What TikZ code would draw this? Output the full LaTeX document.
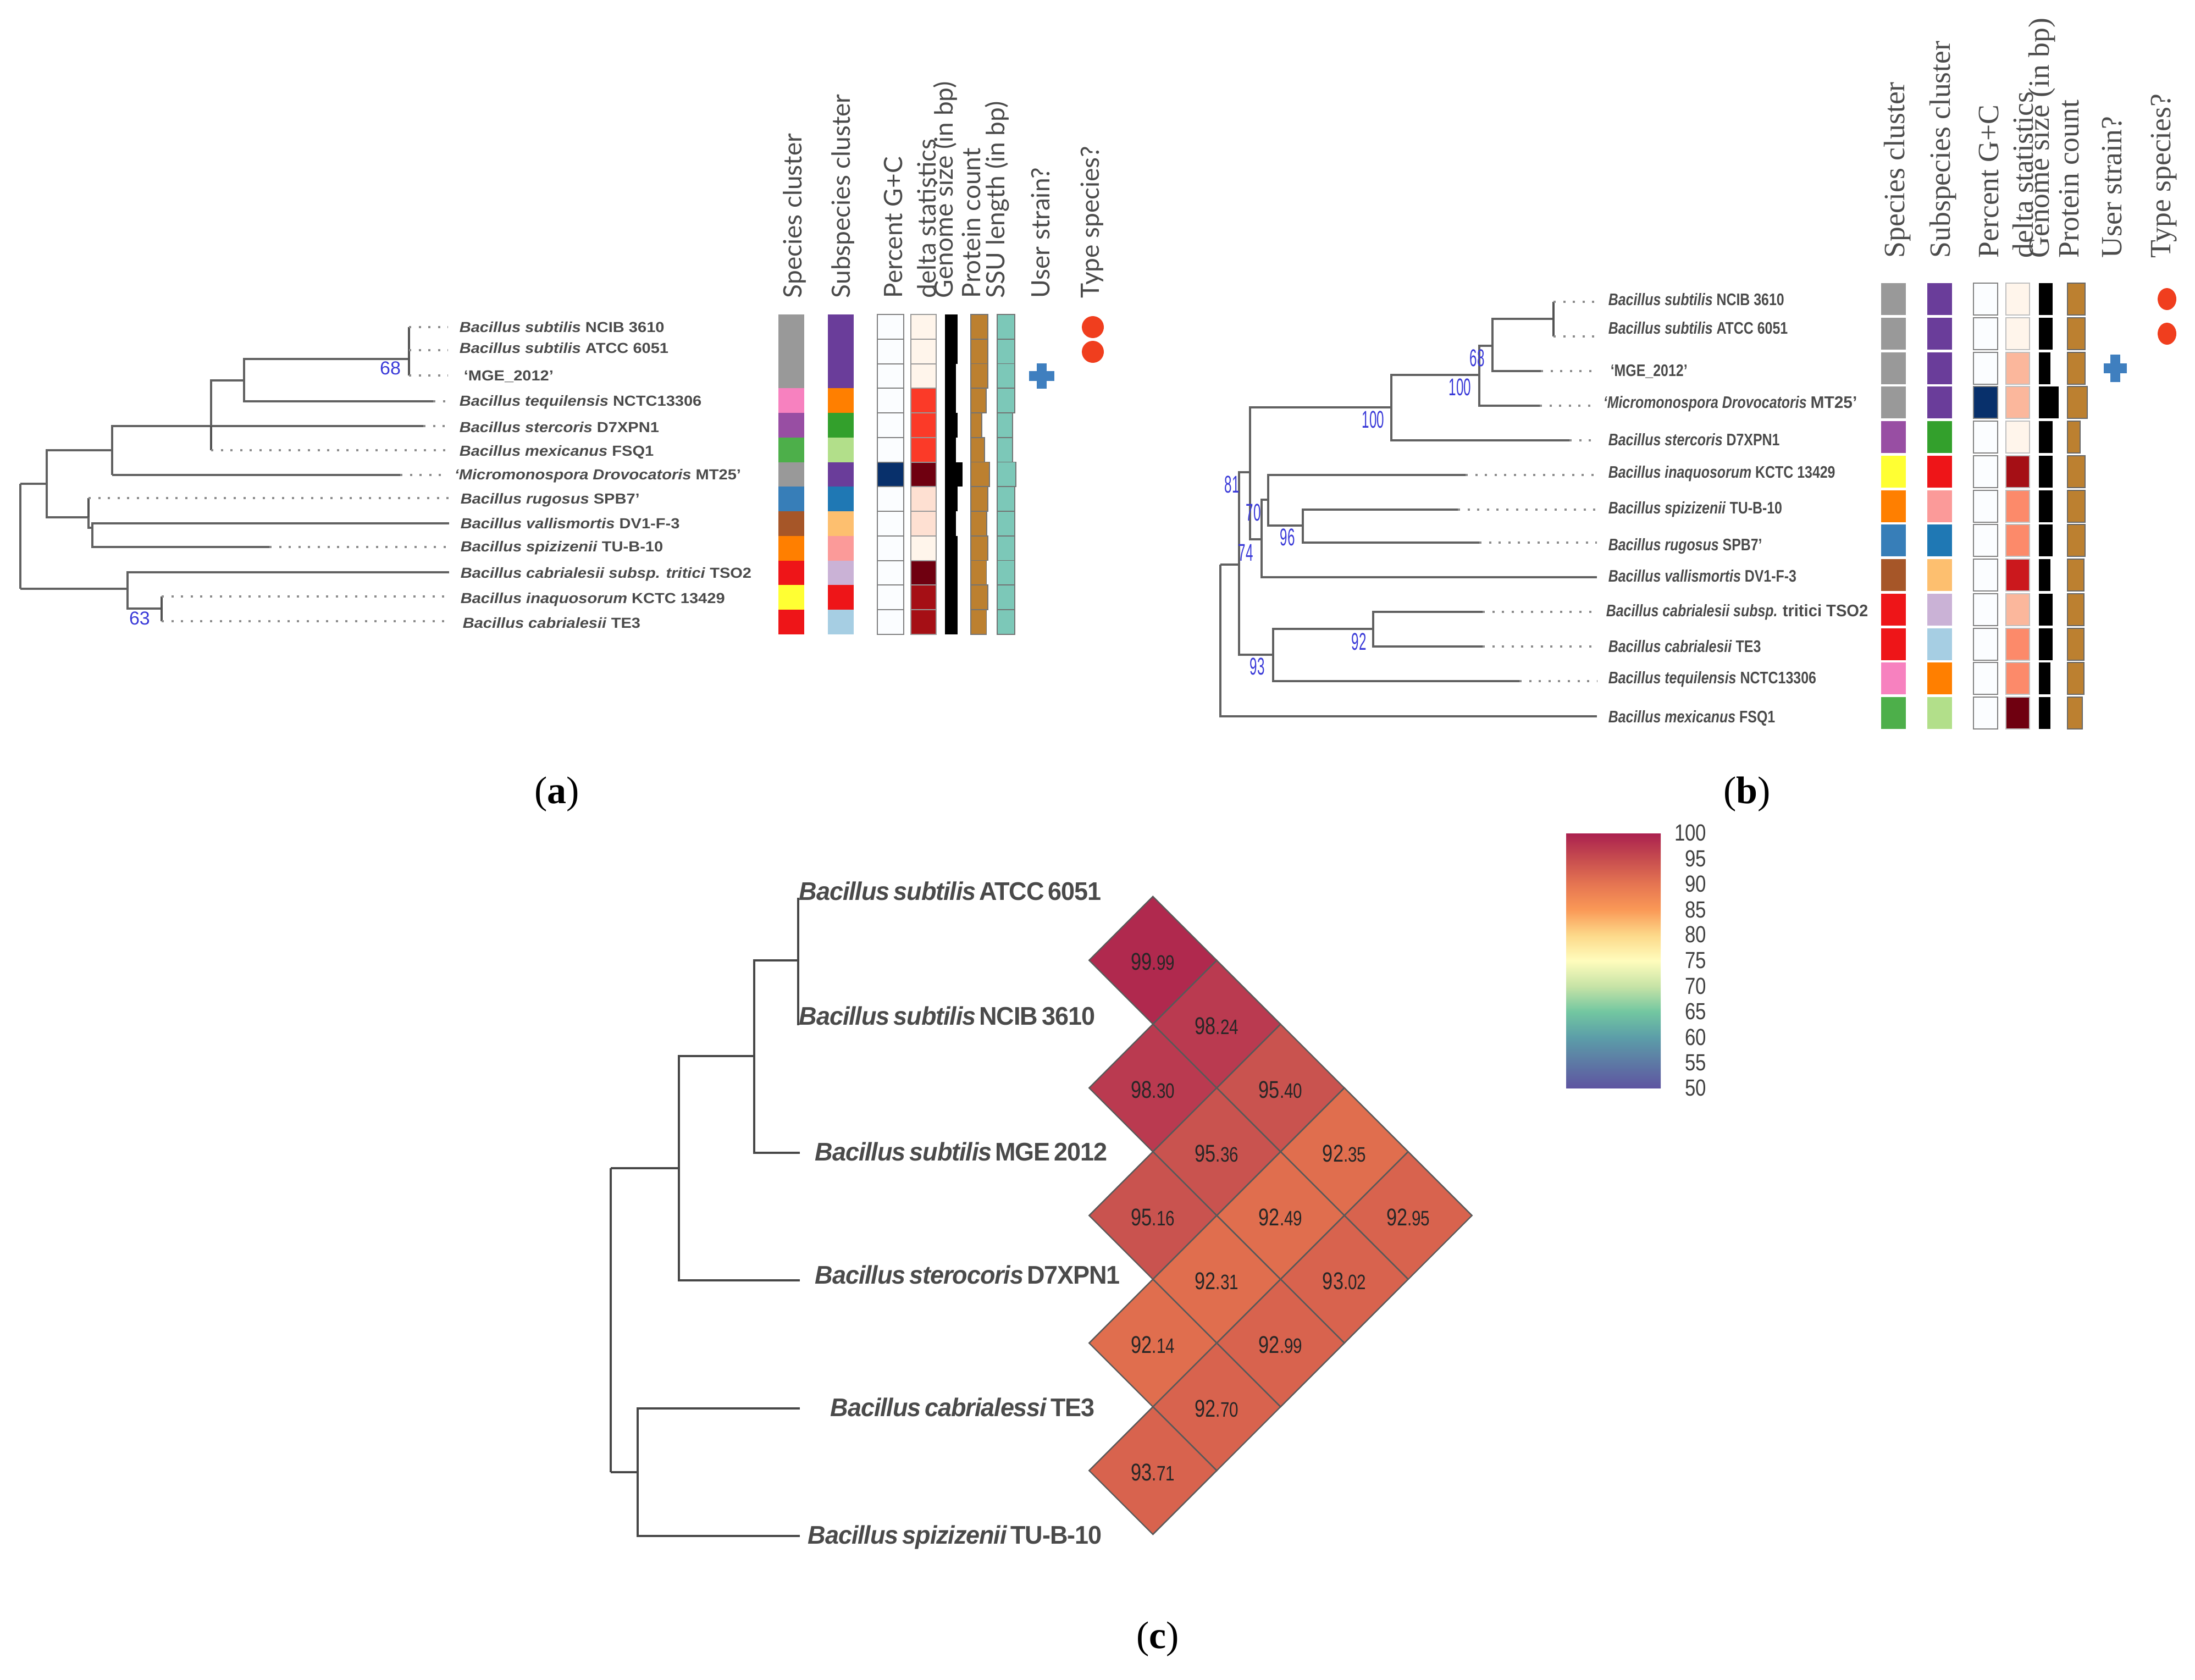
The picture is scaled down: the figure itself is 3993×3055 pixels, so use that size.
\documentclass[tikz,border=0pt]{standalone}
\usepackage{fontspec}
\setmainfont{Liberation Serif}
\newfontfamily\arialf{Liberation Sans}
\newfontfamily\arialt[LetterSpace=-2.5]{Liberation Sans}
\newfontfamily\latof{Lato}
\definecolor{cgray}{HTML}{999999}
\definecolor{cpink}{HTML}{F781BF}
\definecolor{cpurp}{HTML}{984EA3}
\definecolor{cgreen}{HTML}{4DAF4A}
\definecolor{cblue}{HTML}{377EB8}
\definecolor{cbrown}{HTML}{A65628}
\definecolor{corange}{HTML}{FF7F00}
\definecolor{cred}{HTML}{EE1518}
\definecolor{cyell}{HTML}{FFFF33}
\definecolor{spurp}{HTML}{6A3D9A}
\definecolor{sgreen}{HTML}{33A02C}
\definecolor{slgreen}{HTML}{B2DF8A}
\definecolor{sblue}{HTML}{1F78B4}
\definecolor{slorange}{HTML}{FDBF6F}
\definecolor{slpink}{HTML}{FB9A99}
\definecolor{slav}{HTML}{CAB2D6}
\definecolor{slblue}{HTML}{A6CEE3}
\definecolor{gcw}{HTML}{FBFDFF}
\definecolor{gcb}{HTML}{08306B}
\definecolor{d0}{HTML}{FFF5EB}
\definecolor{d1}{HTML}{FB3A28}
\definecolor{d2}{HTML}{6F0010}
\definecolor{d3}{HTML}{FEE0D2}
\definecolor{d4}{HTML}{A50F15}
\definecolor{d5}{HTML}{FBB79C}
\definecolor{d6}{HTML}{FC8A6A}
\definecolor{d7}{HTML}{CB181D}
\definecolor{protc}{HTML}{BC8030}
\definecolor{ssuc}{HTML}{7CC8B8}
\definecolor{plusc}{HTML}{3F7FBF}
\definecolor{dotc}{HTML}{F03E1E}
\definecolor{txtg}{HTML}{4A4A4A}
\definecolor{bluenum}{HTML}{3A3AD8}
\definecolor{h1}{HTML}{B0294E}
\definecolor{h2}{HTML}{BA3A50}
\definecolor{h3}{HTML}{C9534F}
\definecolor{h4}{HTML}{E06E4E}
\definecolor{h5}{HTML}{D8634E}
\pgfdeclareverticalshading{spectralbar}{100bp}{
 rgb(0bp)=(0.37,0.33,0.63);
 rgb(25bp)=(0.37,0.33,0.63);
 rgb(35bp)=(0.36,0.62,0.66);
 rgb(40bp)=(0.45,0.78,0.63);
 rgb(45bp)=(0.78,0.89,0.65);
 rgb(50bp)=(1,0.99,0.74);
 rgb(55bp)=(0.99,0.85,0.54);
 rgb(60bp)=(0.98,0.60,0.34);
 rgb(65bp)=(0.90,0.46,0.32);
 rgb(70bp)=(0.78,0.30,0.31);
 rgb(75bp)=(0.67,0.13,0.31);
 rgb(100bp)=(0.67,0.13,0.31)}
\tikzset{
 branch/.style={draw=black!62,line width=1.2pt},
 thinb/.style={draw=black!68,line width=0.8pt},
 cbranch/.style={draw=black!72,line width=0.95pt},
 dotl/.style={draw=black!45,line width=1.1pt,dash pattern=on 1pt off 3.4pt},
 boot/.style={text=bluenum,font=\arialf\fontsize{8.5}{8.5}\selectfont,inner sep=0pt},
 lab/.style={anchor=west,inner sep=0pt,inner xsep=5pt,text=txtg,text height=1.9mm,text depth=0pt},
 hdra/.style={rotate=90,anchor=west,inner sep=0pt,text=txtg,font=\latof\fontsize{11.5}{11.5}\selectfont},
 hdrb/.style={rotate=90,anchor=west,inner sep=0pt,text=black!70,font=\fontsize{13.4}{13.4}\selectfont},
 capt/.style={inner sep=0pt,font=\fontsize{17.5}{17.5}\selectfont},
 hmv/.style={inner sep=0pt,text=black!85},
 ticklab/.style={anchor=east,inner sep=0pt,text=black!75},
 clab/.style={anchor=west,inner sep=0pt,text=txtg,text height=2.6mm,text depth=0pt},
}
\newcommand{\la}[2]{\scalebox{1.1}[1]{\arialf\bfseries\fontsize{6.6}{7}\selectfont\textit{#1} #2}}
\newcommand{\lb}[2]{\scalebox{0.82}[1]{\arialf\bfseries\fontsize{7.6}{8}\selectfont\textit{#1} #2}}
\newcommand{\lc}[2]{\scalebox{0.97}[1]{\arialt\bfseries\fontsize{11.6}{12}\selectfont\spaceskip=.16em\textit{#1} #2}}
\newcommand{\hv}[2]{\scalebox{0.78}[1]{\arialf\fontsize{11}{12}\selectfont #1{\fontsize{9.5}{12}\selectfont .#2}}}
\newcommand{\bn}[1]{\scalebox{0.55}[1]{\arialf\fontsize{11}{11}\selectfont #1}}
\begin{document}
\begin{tikzpicture}[x=0.25pt,y=-0.25pt]
\useasboundingbox (0,0) rectangle (3993,3055);
% ---------- (a) tree
\foreach \n/\x/\y in {
 ar/37/880, au/85/880, al/37/1071, ah/204/819, av/161/941, am/204/864,
 ai/384/775, ast/770/775, amx/384/819, aj/444/692, ate/788/730, ak/744/653,
 at1/744/595, at2/744/637, at3/744/683,
 aru/161/906, aw/168/960, ava/817/952, asp/490/995,
 ac/232/1071, act/817/1041, ae/294/1107, ain/294/1085, atc/294/1130, ami/728/864}
 {\coordinate (\n) at (\x,\y);}
\foreach \p/\c in {ar/au,ar/al,au/ah,au/av,ah/ai,ah/am,ai/aj,ai/ast,aj/ak,aj/ate,am/ami,ac/act,al/ac,ac/ae,aw/ava}
 {\draw[branch] (\p) |- (\c);}
\draw[branch] (aw) |- (asp);
\draw[branch] (av) |- (aw);
\draw[thinb] (ai) |- (amx);
\draw[thinb] (ak) |- (at1);
\draw[thinb] (ak) |- (at3);
\draw[thinb] (av) |- (aru);
\draw[thinb] (ae) |- (ain);
\draw[thinb] (ae) |- (atc);
\foreach \n/\y/\xx/\s/\g in {
 at1/594/815/Bacillus subtilis/NCIB 3610,
 at2/632/815/Bacillus subtilis/ATCC 6051,
 ate/728/815/Bacillus tequilensis/NCTC13306,
 ast/776/815/Bacillus stercoris/D7XPN1,
 amx/819/815/Bacillus mexicanus/FSQ1,
 aru/906/817/Bacillus rugosus/SPB7’,
 ava/951/817/Bacillus vallismortis/DV1-F-3,
 asp/993/817/Bacillus spizizenii/TU-B-10,
 ain/1087/817/Bacillus inaquosorum/KCTC 13429,
 act/1041/817/Bacillus cabrialesii subsp. tritici/TSO2}
 {\node[lab] (l\n) at (\xx,\y) {\la{\s}{\g}};
  \draw[dotl] (\n) -- (\n -| l\n.west);}
\node[lab] (lat3) at (815,682) {\la{}{‘MGE\_2012’}};
\draw[dotl] (at3) -- (at3 -| lat3.west);
\node[lab] (lami) at (806,862) {\la{‘Micromonospora Drovocatoris}{MT25’}};
\draw[dotl] (ami) -- (ami -| lami.west);
\node[lab] (latc) at (821,1132) {\la{Bacillus cabrialesii}{TE3}};
\draw[dotl] (atc) -- (atc -| latc.west);
\node[boot] (b68a) at (710,670) {68};
\node[boot] (b63a) at (254,1125) {63};
% ---------- (a) strips
\def\ya{572}\def\ha{44.75}
\foreach \c [count=\i from 0] in {cgray,cgray,cgray,cpink,cpurp,cgreen,cgray,cblue,cbrown,corange,cred,cyell,cred}
 {\pgfmathsetmacro\yy{\ya+\ha*\i}\fill[fill=\c] (1416,\yy) rectangle (1463,\yy+\ha);}
\foreach \c [count=\i from 0] in {spurp,spurp,spurp,corange,sgreen,slgreen,spurp,sblue,slorange,slpink,slav,cred,slblue}
 {\pgfmathsetmacro\yy{\ya+\ha*\i}\fill[fill=\c] (1505.5,\yy) rectangle (1553,\yy+\ha);}
\foreach \c [count=\i from 0] in {gcw,gcw,gcw,gcw,gcw,gcw,gcb,gcw,gcw,gcw,gcw,gcw,gcw}
 {\pgfmathsetmacro\yy{\ya+\ha*\i}\filldraw[fill=\c,draw=black!50,line width=.5pt] (1596,\yy) rectangle (1644,\yy+\ha);}
\foreach \c [count=\i from 0] in {d0,d0,d0,d1,d1,d1,d2,d3,d3,d0,d2,d4,d4}
 {\pgfmathsetmacro\yy{\ya+\ha*\i}\filldraw[fill=\c,draw=black!40,line width=.5pt] (1657,\yy) rectangle (1703,\yy+\ha);}
\foreach \w [count=\i from 0] in {1742,1742,1739,1739,1742,1739,1751,1742,1739,1742,1742,1742,1742}
 {\pgfmathsetmacro\yy{\ya+\ha*\i}\fill[fill=black] (1719,\yy) rectangle (\w,\yy+\ha);}
\foreach \w [count=\i from 0] in {1797,1797,1797,1794,1786,1791,1800,1797,1795,1797,1794.5,1797,1794.5}
 {\pgfmathsetmacro\yy{\ya+\ha*\i}\filldraw[fill=protc,draw=black!55,line width=.4pt] (1766,\yy) rectangle (\w,\yy+\ha);}
\foreach \w [count=\i from 0] in {1846,1846,1846,1846,1842,1842,1848,1846,1846,1846,1846,1846,1846}
 {\pgfmathsetmacro\yy{\ya+\ha*\i}\filldraw[fill=ssuc,draw=black!55,line width=.4pt] (1814,\yy) rectangle (\w,\yy+\ha);}
\fill[plusc] (1872,675) rectangle (1918,693);
\fill[plusc] (1886,661) rectangle (1904,707);
\fill[dotc] (1988,595) ellipse (20 and 20);
\fill[dotc] (1988,640) ellipse (20 and 20);
\foreach \x/\t [count=\i] in {1445/Species cluster,1533/Subspecies cluster,1625/Percent G+C,1686/delta statistics,1720/Genome size (in bp),1767/Protein count,1814/SSU length (in bp),1893/User strain?,1987/Type species?}
 {\node[hdra] (ha\i) at (\x,543) {\t};}
% ---------- (b) tree
\foreach \n/\x/\y in {
 br/2220/1027, bmx/2905/1303, b1/2254/1027, b2/2316/1191, bte/2764/1239, b3/2498/1144,
 bca/2697/1113, btc/2697/1176, b4/2274/859, b5/2531/741, bst/2855/801, b6/2691/682,
 bmi/2801/738, b7/2715/629, bmg/2803/675, b8/2826/580, bs1/2826/549, bs2/2826/612,
 b9/2295/981, bva/2905/1050, b10/2307/909, bin/2666/864, b11/2370/956, bsp/2652/927, bru/2691/987}
 {\coordinate (\n) at (\x,\y);}
\foreach \p/\c in {br/b1,br/bmx,b1/b2,b1/b4,b2/bte,b2/b3,b3/bca,b3/btc,b4/b5,b4/b9,b5/bst,b5/b6,b6/bmi,b6/b7,b7/bmg,b7/b8,b9/bva,b9/b10,b10/bin,b10/b11,b11/bsp,b11/bru}
 {\draw[branch] (\p) |- (\c);}
\draw[thinb] (b8) |- (bs1);
\draw[thinb] (b8) |- (bs2);
\foreach \n/\y/\s/\g in {
 bs1/545/Bacillus subtilis/NCIB 3610,
 bs2/597/Bacillus subtilis/ATCC 6051,
 bst/800/Bacillus stercoris/D7XPN1,
 bin/859/Bacillus inaquosorum/KCTC 13429,
 bsp/924/Bacillus spizizenii/TU-B-10,
 bru/991/Bacillus rugosus/SPB7’,
 bva/1048/Bacillus vallismortis/DV1-F-3,
 btc/1176/Bacillus cabrialesii/TE3,
 bte/1233/Bacillus tequilensis/NCTC13306,
 bmx/1304/Bacillus mexicanus/FSQ1}
 {\node[lab] (l\n) at (2905,\y) {\lb{\s}{\g}};
  \draw[dotl] (\n) -- (\n -| l\n.west);}
\node[lab] (lbmg) at (2902,674) {\lb{}{‘MGE\_2012’}};
\draw[dotl] (bmg) -- (bmg -| lbmg.west);
\node[lab] (lbmi) at (2896,732) {\lb{‘Micromonospora Drovocatoris}{\scalebox{1.2}[1]{MT25’}}};
\draw[dotl] (bmi) -- (bmi -| lbmi.west);
\node[lab] (lbca) at (2901,1111) {\lb{Bacillus cabrialesii subsp.}{\scalebox{1.17}[1]{tritici TSO2}}};
\draw[dotl] (bca) -- (bca -| lbca.west);
\foreach \x/\y/\t [count=\i] in {2687/651/68,2656/704/100,2498/763/100,2241/881/81,2280/932/70,2342/977/96,2266/1005/74,2472/1167/92,2287/1212/93}
 {\node[text=bluenum,inner sep=0pt] (bb\i) at (\x,\y) {\bn{\t}};}
% ---------- (b) strips
\def\yb{515}\def\sb{62.75}\def\hb{58}
\foreach \c [count=\i from 0] in {cgray,cgray,cgray,cgray,cpurp,cyell,corange,cblue,cbrown,cred,cred,cpink,cgreen}
 {\pgfmathsetmacro\yy{\yb+\sb*\i}\fill[fill=\c] (3422,\yy) rectangle (3467,\yy+\hb);}
\foreach \c [count=\i from 0] in {spurp,spurp,spurp,spurp,sgreen,cred,slpink,sblue,slorange,slav,slblue,corange,slgreen}
 {\pgfmathsetmacro\yy{\yb+\sb*\i}\fill[fill=\c] (3506,\yy) rectangle (3551,\yy+\hb);}
\foreach \c [count=\i from 0] in {gcw,gcw,gcw,gcb,gcw,gcw,gcw,gcw,gcw,gcw,gcw,gcw,gcw}
 {\pgfmathsetmacro\yy{\yb+\sb*\i}\filldraw[fill=\c,draw=black!50,line width=.5pt] (3590,\yy) rectangle (3634,\yy+\hb);}
\foreach \c [count=\i from 0] in {d0,d0,d5,d5,d0,d4,d6,d6,d7,d5,d6,d6,d2}
 {\pgfmathsetmacro\yy{\yb+\sb*\i}\filldraw[fill=\c,draw=black!25,line width=.5pt] (3649,\yy) rectangle (3692,\yy+\hb);}
\foreach \w [count=\i from 0] in {3734,3734,3730,3745,3734,3734,3734,3734,3730,3734,3734,3730,3730}
 {\pgfmathsetmacro\yy{\yb+\sb*\i}\fill[fill=black] (3709,\yy) rectangle (\w,\yy+\hb);}
\foreach \w [count=\i from 0] in {3793,3793,3793,3797,3784,3793,3793,3793,3791,3791,3791,3791,3788}
 {\pgfmathsetmacro\yy{\yb+\sb*\i}\filldraw[fill=protc,draw=black!60,line width=.5pt] (3761,\yy) rectangle (\w,\yy+\hb);}
\fill[plusc] (3827,661) rectangle (3869,679);
\fill[plusc] (3839,645) rectangle (3857,695);
\fill[dotc] (3942,544) ellipse (17 and 20);
\fill[dotc] (3942,607) ellipse (17 and 20);
\foreach \x/\t [count=\i] in {3452/Species cluster,3535/Subspecies cluster,3618/Percent G+C,3680/delta statistics,3715/Genome size (in bp),3764/Protein count,3842/User strain?,3936/Type species?}
 {\node[hdrb] (hb\i) at (\x,470) {\t};}
% ---------- (c) tree
\foreach \n/\x/\y in {
 cr/1111/2125, cl/1111/2678, c1/1235/2125, cs/1455/2329, c2/1372/1921, cm/1455/2097,
 c3/1452/1747, ca/1452/1633, cn/1452/1865, c4/1160/2678, ct/1455/2562, cu/1455/2794}
 {\coordinate (\n) at (\x,\y);}
\foreach \p/\c in {cr/c1,cr/cl,c1/cs,c1/c2,c2/cm,c2/c3,c3/ca,c3/cn,cl/c4,c4/ct,c4/cu}
 {\draw[cbranch] (\p) |- (\c);}
\foreach \x/\y/\s/\g [count=\i] in {
 1453/1623/Bacillus subtilis/ATCC 6051,
 1453/1850/Bacillus subtilis/NCIB 3610,
 1482/2097/Bacillus subtilis/MGE 2012,
 1482/2321/Bacillus sterocoris/D7XPN1,
 1510/2562/Bacillus cabrialessi/TE3,
 1469/2794/Bacillus spizizenii/TU-B-10}
 {\node[clab] (lc\i) at (\x,\y) {\lc{\s}{\g}};}
% ---------- heat map
\foreach \x/\y/\a/\b/\c [count=\i] in {
 2097.3/1746.8/99/99/h1,
 2213.4/1863/98/24/h2,
 2097.3/1979/98/30/h2,
 2329.5/1979/95/40/h3,
 2213.4/2095/95/36/h3,
 2445.6/2095/92/35/h4,
 2097.3/2211/95/16/h3,
 2329.5/2211/92/49/h4,
 2561.7/2211/92/95/h5,
 2213.4/2327/92/31/h4,
 2445.6/2327/93/02/h5,
 2097.3/2443/92/14/h4,
 2329.5/2443/92/99/h5,
 2213.4/2559/92/70/h5,
 2097.3/2675/93/71/h5}
 {\filldraw[fill=\c,draw=black!65,line width=.6pt] (\x,\y-116) -- (\x+116,\y) -- (\x,\y+116) -- (\x-116,\y) -- cycle;
  \node[hmv] (hm\i) at (\x,\y+3) {\hv{\a}{\b}};}
\shade[shading=spectralbar] (2849,1516) rectangle (3021,1979);
\foreach \t/\y in {100/1515,95/1562,90/1608,85/1655,80/1700,75/1747,70/1794,65/1840,60/1887,55/1933,50/1979}
 {\node[ticklab] (t\t) at (3105,\y) {\scalebox{0.82}[1]{\arialf\fontsize{10.6}{11}\selectfont\t}};}
% ---------- captions
\node[capt] (capa) at (1013,1445) {(\textbf{a})};
\node[capt] (capb) at (3178,1445) {(\textbf{b})};
\node[capt] (capc) at (2106,2982) {(\textbf{c})};
\end{tikzpicture}
\end{document}
